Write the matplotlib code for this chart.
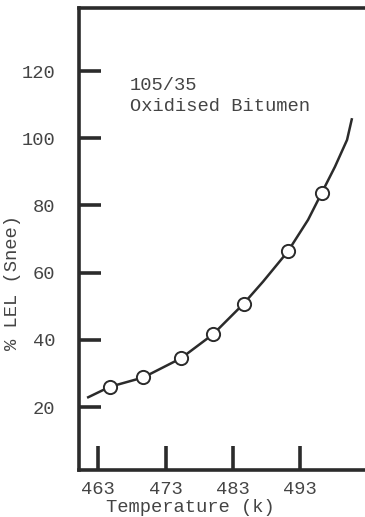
import matplotlib
matplotlib.use('Agg')
import matplotlib.pyplot as plt

# measured % LEL (Snee) against temperature
temp_k = [464.7, 469.7, 475.3, 480.1, 484.6, 491.2, 496.2]
lel_pct = [26.0, 28.8, 34.5, 41.7, 50.7, 66.3, 83.6]

# hand-drawn trend curve through the measurements
curve_t = [461.5, 464.7, 469.7, 475.3, 480.1, 484.6, 487.5, 491.2, 494.2, 496.2, 498.2, 500.0, 500.7]
curve_lel = [22.9, 26.0, 28.8, 34.5, 41.7, 50.7, 57.3, 66.3, 75.7, 83.6, 91.5, 99.5, 105.6]

xticks = [463, 473, 483, 493]
yticks = [20, 40, 60, 80, 100, 120]

plt.rcParams['font.family'] = ['Liberation Mono', 'DejaVu Sans Mono']
ink = '#2b2b2b'

fig = plt.figure(figsize=(3.65, 5.17), dpi=100)
ax = fig.add_axes([79 / 365, 1 - 470 / 517, 1 - 79 / 365, (470 - 8) / 517])

ax.plot(curve_t, curve_lel, color=ink, lw=1.8, zorder=2)
ax.plot(temp_k, lel_pct, 'o', ms=9.5, mfc='white', mec=ink, mew=1.4, zorder=3)

ax.set_xlim(460.13, 502.67)
ax.set_ylim(1.25, 138.75)
ax.set_xticks(xticks)
ax.set_yticks(yticks)

for side in ['left', 'bottom', 'top']:
    ax.spines[side].set_linewidth(2.6)
    ax.spines[side].set_color(ink)
ax.spines['right'].set_visible(False)

ax.tick_params(axis='both', direction='in', width=2.6, color=ink,
               labelsize=13.5, labelcolor='#444444')
ax.tick_params(axis='y', length=16, pad=17)
ax.tick_params(axis='x', length=17, pad=8)

ax.text(467.7, 115.8, '105/35', fontsize=13.5, color='#444444', va='center')
ax.text(467.7, 109.3, 'Oxidised Bitumen', fontsize=13.5, color='#444444', va='center')

fig.text(13 / 365, 1 - 283 / 517, '% LEL (Snee)', rotation=90, fontsize=13.5,
         color='#444444', ha='center', va='center')
fig.text(190 / 365, 1 - 508 / 517, 'Temperature (k)', fontsize=13.5,
         color='#444444', ha='center', va='center')

fig.savefig('out.png', dpi=100)
